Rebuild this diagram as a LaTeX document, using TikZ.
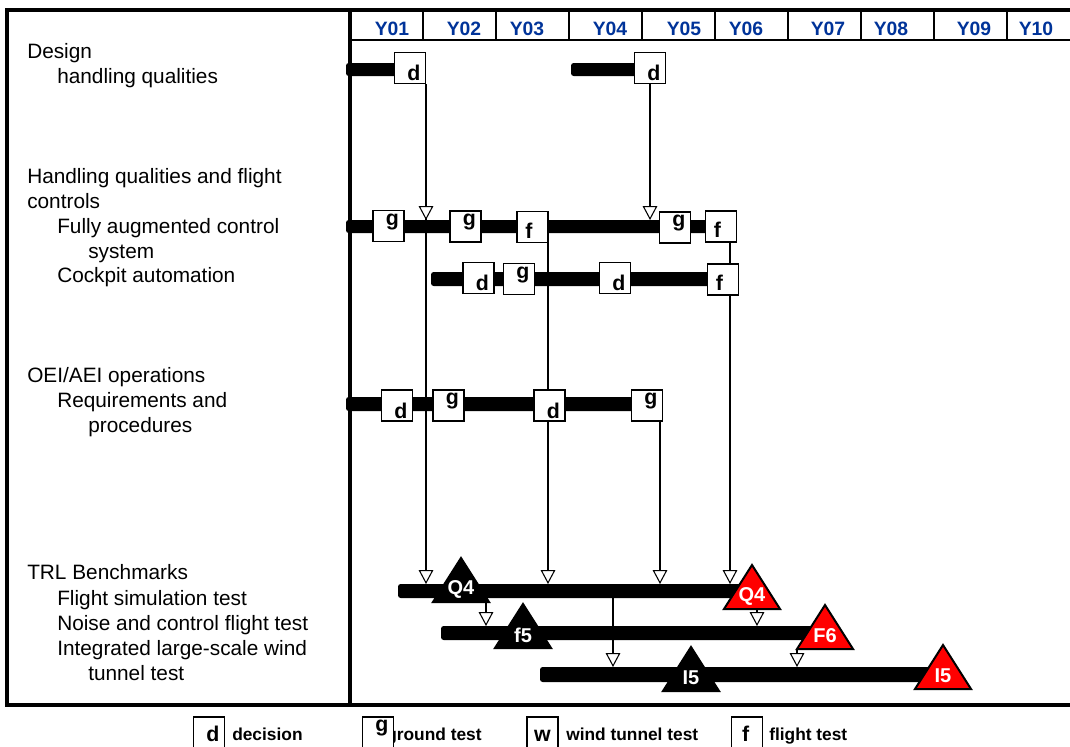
\documentclass[tikz,border=0pt]{standalone}
\usepackage{fontspec}
\setmainfont{Liberation Sans}
\usetikzlibrary{arrows.meta,backgrounds}
\definecolor{yearblue}{RGB}{0,51,153}
\definecolor{msred}{RGB}{255,0,0}
% letter in a marker box: x shift (twice), raise, letter
\newcommand\ltr[3]{\raisebox{#2}{\makebox[0pt][c]{\hspace*{#1}#3}}}
\newcommand\mkg{\ltr{6pt}{0.4pt}{g}}
\newcommand\mkd{\ltr{6pt}{-9.4pt}{d}}
\newcommand\mkf{\ltr{-5.25pt}{-8.6pt}{f}}
% milestone triangle: name, apex x, apex y, colour, label
\newcommand\milestone[5]{%
  \filldraw[fill=#4, draw=black, line width=1.5pt] (#2,#3) -- ++(-28,44) -- ++(56,0) -- cycle;
  \coordinate (#1-b) at (#2,#3+44);
  \node[mslbl] (#1) at (#2,#3+31) {#5};}
\tikzset{
  bar/.style={fill=black, rounded corners=2pt},
  mk/.style={draw, fill=white, line width=1pt, minimum size=23.25pt, inner sep=0pt,
    text height=0pt, text depth=0pt, font=\bfseries\fontsize{16}{16}\selectfont},
  conn/.style={line width=1pt, -{Triangle[fill=white, length=10.5pt, width=11pt, line width=0.8pt]}},
  lbl/.style={anchor=base west, inner sep=0pt, font=\fontsize{15.6}{18.75}\selectfont},
  yr/.style={anchor=base, inner sep=0pt, text=yearblue, font=\bfseries\fontsize{14.5}{14.5}\selectfont},
  mslbl/.style={inner sep=0pt, text=white, font=\bfseries\fontsize{15}{15}\selectfont},
  key/.style={anchor=base west, inner sep=0pt, font=\bfseries\fontsize{13}{13}\selectfont},
}
\begin{document}
\begin{tikzpicture}[x=0.75pt,y=-0.75pt]
\useasboundingbox (0,0) rectangle (1070,746);
\clip (0,0) rectangle (1070,746);
% frame and year header
\draw[line width=2.4pt] (1070,10) -- (7,10) -- (7,705) -- (1070,705);
\draw[line width=3pt] (350,10) -- (350,705);
\draw[line width=0.8pt] (350,40) -- (1070,40);
\foreach \x in {423,496,...,1007}
  \draw[line width=0.8pt] (\x,10) -- (\x,40);
\foreach \n/\x in {01/392,02/464,03/527,04/610,05/684,06/746,07/828,08/891,09/974,10/1036}
  \node[yr] (y\n) at (\x,35) {Y\n};
% task names
\foreach \x/\y/\txt [count=\i] in {27/58/Design, 57/83/handling qualities,
    27/183/Handling qualities and flight, 27/208/controls, 57/233/Fully augmented control,
    88/258/system, 57/282/Cockpit automation, 27/382/{OEI/AEI operations},
    57/407/Requirements and, 88/432/procedures, 27/579/TRL Benchmarks,
    57/605/Flight simulation test, 57/630/Noise and control flight test,
    57/655/Integrated large-scale wind, 88/680/tunnel test}
  \node[lbl] (t\i) at (\x,\y) {\txt};
% marker boxes
\node[mk] (dA) at (410,68) {\mkd};
\node[mk] (dB) at (650,68) {\mkd};
\node[mk] (gA) at (388.5,226) {\mkg};
\node[mk] (gB) at (465.5,226.5) {\mkg};
\node[mk] (fA) at (532.5,227) {\mkf};
\node[mk] (gC) at (675,227.5) {\mkg};
\node[mk] (fB) at (721,226.5) {\mkf};
\node[mk] (dC) at (478.5,278) {\mkd};
\node[mk] (gD) at (519,279) {\mkg};
\node[mk] (dD) at (615,278) {\mkd};
\node[mk] (fC) at (723,279.5) {\mkf};
\node[mk] (dE) at (397,405.5) {\mkd};
\node[mk] (gE) at (448.5,405.5) {\mkg};
\node[mk] (dF) at (549.5,405.5) {\mkd};
\node[mk] (gF) at (647,405.5) {\mkg};
\begin{scope}[on background layer]
% bars
\fill[bar] (346,63) rectangle (411,76);
\fill[bar] (571,63) rectangle (645,76);
\fill[bar] (346,220) rectangle (731,233);
\fill[bar] (431,272) rectangle (731,286);
\fill[bar] (346,397) rectangle (652,411);
\fill[bar] (398,584) rectangle (745,598);
\fill[bar] (441,626) rectangle (832,640);
\fill[bar] (540,667) rectangle (947,682);
% milestones
\milestone{mQa}{461}{558}{black}{Q4}
\milestone{mQb}{752}{565}{msred}{Q4}
\milestone{mf}{523}{604}{black}{f5}
\milestone{mF}{825}{605}{msred}{F6}
\milestone{mIa}{691}{647}{black}{I5}
\milestone{mIb}{943}{645}{msred}{I5}
% arrow ends
\coordinate (hq) at (426,220);
\coordinate (hq2) at (650,220);
\coordinate (t1) at (426,584);
\coordinate (t2) at (548,584);
\coordinate (t3) at (660,584);
\coordinate (t4) at (730,584);
\coordinate (n1) at (486,626);
\coordinate (n2) at (757,626);
\coordinate (b1) at (613,598);
\coordinate (w1) at (613,667);
\coordinate (w2) at (797,667);
% links
\draw[conn] (dA.south -| t1) -- (t1);
\draw[conn] (dA.south -| hq) -- (hq);
\draw[conn] (dB.south) -- (hq2);
\draw[conn] (fA.south -| t2) -- (t2);
\draw[conn] (fB.south -| t4) -- (t4);
\draw[conn] (gF.south -| t3) -- (t3);
\draw[conn] (mQa-b -| n1) -- (n1);
\draw[conn] (mQb-b -| n2) -- (n2);
\draw[conn] (b1) -- (w1);
\draw[conn] (mF-b -| w2) -- (w2);
\end{scope}
% legend
\node[key] (kd) at (232,740) {decision};
\node[key] (kg) at (386,740) {ground test};
\node[key] (kw) at (566,740) {wind tunnel test};
\node[key] (kf) at (769,740) {flight test};
\node[mk] (ld) at (209,732.5) {\ltr{6pt}{-7.1pt}{d}};
\node[mk] (lg) at (378,732.5) {\mkg};
\node[mk] (lw) at (542.5,732.5) {\ltr{0pt}{-6.6pt}{w}};
\node[mk] (lf) at (747,732.5) {\ltr{-2pt}{-7.1pt}{f}};
\end{tikzpicture}
\end{document}
